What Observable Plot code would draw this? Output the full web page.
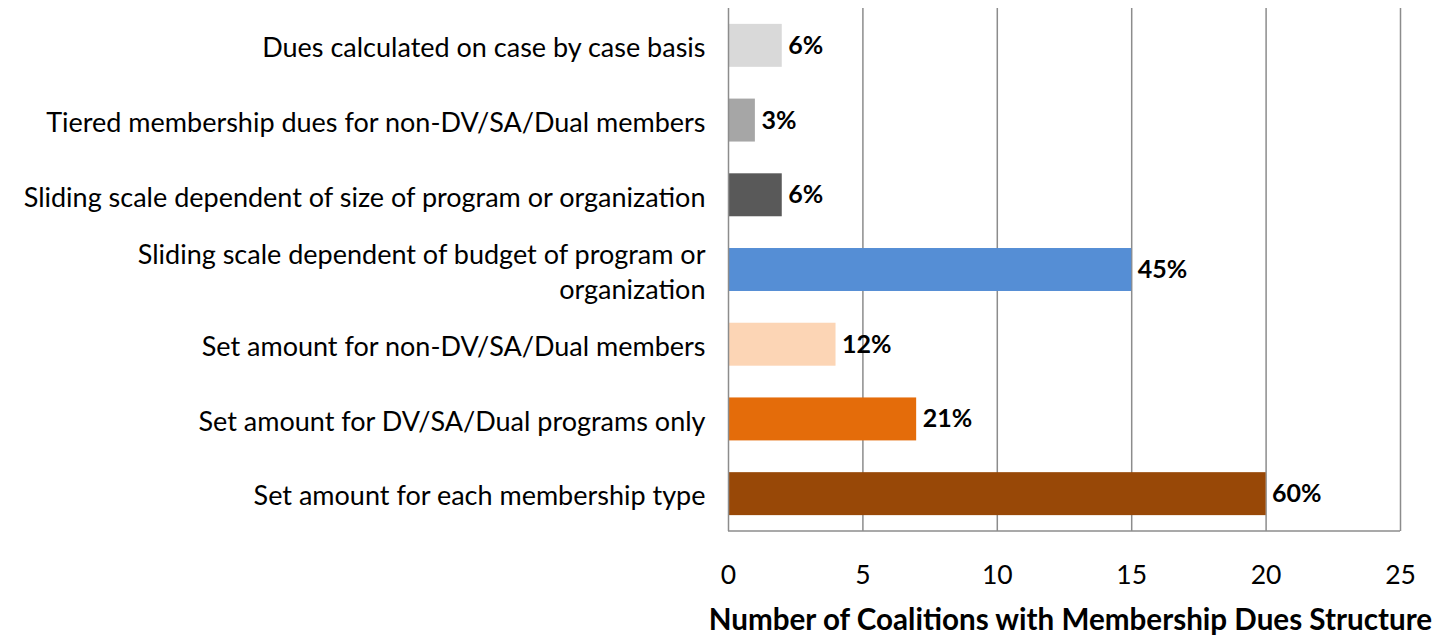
<!DOCTYPE html>
<html>
<head>
<meta charset="utf-8">
<script src="https://cdn.jsdelivr.net/npm/d3@7"></script>
<script src="https://cdn.jsdelivr.net/npm/@observablehq/plot@0.6"></script>
<style>
  html, body { margin: 0; padding: 0; background: #fff; }
  #chart svg { display: block; }
</style>
</head>
<body>
<div id="chart"></div>
<script>
const categories = [
  "Dues calculated on case by case basis",
  "Tiered membership dues for non-DV/SA/Dual members",
  "Sliding scale dependent of size of program or organization",
  "Sliding scale dependent of budget of program or\norganization",
  "Set amount for non-DV/SA/Dual members",
  "Set amount for DV/SA/Dual programs only",
  "Set amount for each membership type"
];
const counts = [2, 1, 2, 15, 4, 7, 20];
const percentLabels = ["6%", "3%", "6%", "45%", "12%", "21%", "60%"];
const barColors = ["#d9d9d9", "#a6a6a6", "#595959", "#558ed5", "#fcd5b5", "#e46c0a", "#984807"];
const xTicks = [0, 5, 10, 15, 20, 25];
const xTitle = "Number of Coalitions with Membership Dues Structure";

const data = categories.map((c, i) => ({category: c, count: counts[i], label: percentLabels[i], color: barColors[i]}));

const W = 1441, H = 635, mL = 728, mR = 41, mT = 8, mB = 104;

const chart = Plot.plot({
  width: W,
  height: H,
  marginLeft: mL,
  marginRight: mR,
  marginTop: mT,
  marginBottom: mB,
  style: {fontFamily: "Lato, 'Open Sans', sans-serif", background: "#fff", color: "#000"},
  x: {domain: [0, 25], ticks: xTicks},
  y: {domain: categories, paddingInner: 0.425, paddingOuter: 0.2125, round: false},
  marks: [
    Plot.gridX(xTicks.filter(d => d > 0), {stroke: "#8c8c8c", strokeOpacity: 1, strokeWidth: 1.5}),
    Plot.barX(data, {x: "count", y: "category", fill: "color"}),
    Plot.ruleX([0], {stroke: "#8c8c8c", strokeWidth: 1.5}),
    Plot.text(data, {
      x: "count", y: "category", text: "label",
      textAnchor: "start", dx: 6, fontWeight: "bold", fontSize: 25, fill: "#000"
    }),
    Plot.axisY({
      tickSize: 0, tickPadding: 23, fontSize: 27, lineHeight: 1.3, label: null, fill: "#000"
    }),
    Plot.axisX({
      ticks: xTicks, tickSize: 0, tickPadding: 34, fontSize: 26.5, label: null, fill: "#000"
    }),
    Plot.text([xTitle], {
      frameAnchor: "bottom", dy: 98, x: 12.72, text: d => d,
      fontWeight: "bold", fontSize: 29.6, fill: "#000"
    })
  ]
});

// bottom axis line drawn through the chart's own x scale
const xs = chart.scale("x");
d3.select(chart).append("line")
  .attr("x1", xs.apply(0)).attr("x2", xs.apply(25))
  .attr("y1", H - mB).attr("y2", H - mB)
  .attr("stroke", "#8c8c8c").attr("stroke-width", 1.5);

document.getElementById("chart").appendChild(chart);
</script>
</body>
</html>
